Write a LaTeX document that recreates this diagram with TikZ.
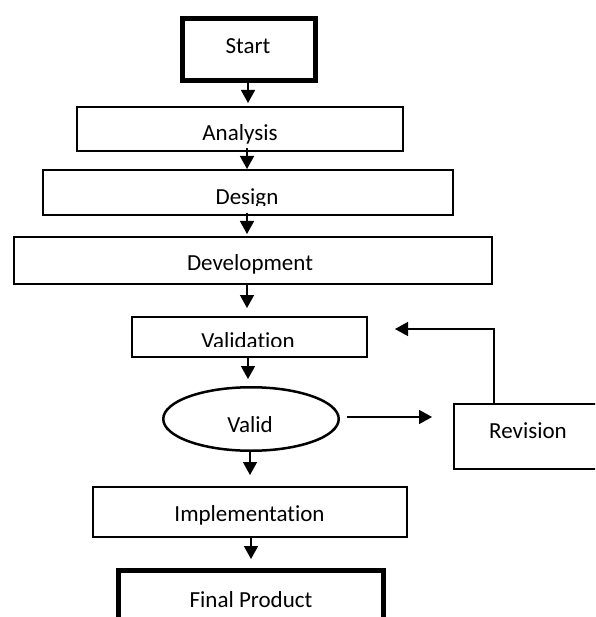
\documentclass[tikz,border=0pt]{standalone}
\usepackage{fontspec}
\setmainfont[Ligatures=NoCommon]{Carlito}
\usetikzlibrary{arrows.meta,shapes.geometric}
\begin{document}
\begin{tikzpicture}[x=1pt,y=-1pt,
  box/.style={draw=black, line width=2pt, rectangle, inner sep=0pt, fill=white},
  thickbox/.style={draw=black, line width=5pt, rectangle, inner sep=0pt, fill=white},
  lbl/.style={anchor=base, inner sep=0pt, font=\fontsize{23}{28}\selectfont},
  arr/.style={draw=black, line width=1.5pt, -{Triangle[width=14pt,length=13pt]}}]
\clip (0,0) rectangle (595,617);
\fill[white] (0,0) rectangle (595,617);
% boxes
\node[thickbox, minimum width=133pt, minimum height=62pt] (start) at (249,49.5) {};
\node[box, minimum width=326pt, minimum height=44pt] (analysis) at (240,129) {};
\node[box, minimum width=410pt, minimum height=45pt] (design) at (248,192.5) {};
\node[box, minimum width=478pt, minimum height=47pt] (dev) at (253,260.5) {};
\node[box, minimum width=235pt, minimum height=40pt] (val) at (249.5,337) {};
\node[draw=black, line width=2.5pt, ellipse, inner sep=0pt, minimum width=175.5pt, minimum height=63.5pt] (valid) at (251,419) {};
\node[box, minimum width=166pt, minimum height=65pt] (rev) at (537,436.5) {};
\node[box, minimum width=314pt, minimum height=50pt] (impl) at (250,512) {};
\node[thickbox, minimum width=265pt, minimum height=69.5pt] (final) at (251,605.25) {};
% labels
\node[lbl] (tstart) at (248,54) {Start};
\node[lbl] (tanalysis) at (240,141) {Analysis};
\begin{scope}
\clip (43,170) rectangle (453,205.5);
\node[lbl] (tdesign) at (247,205) {Design};
\end{scope}
\node[lbl] (tdev) at (250,270.5) {Development};
\begin{scope}
\clip (132,317) rectangle (367,346.5);
\node[lbl] (tval) at (248,348) {Validat\kern0pt ion};
\end{scope}
\node[lbl] (tvalid) at (250,432) {Valid};
\node[lbl] (trev) at (528,438) {Revision};
\node[lbl] (timpl) at (249.5,521) {Implementat\kern0pt ion};
\node[lbl] (tfinal) at (251,607) {Final Product};
% arrow columns
\coordinate (c1) at (248,0);
\coordinate (c2) at (247,0);
\coordinate (c3) at (248,0);
\coordinate (c4) at (250,0);
\coordinate (c5) at (251,0);
\draw[arr, shorten >=3pt] (start.south -| c1) -- (analysis.north -| c1);
\draw[arr, shorten <=-4pt] (analysis.south -| c2) -- (design.north -| c2);
\draw[arr, shorten <=-3pt, shorten >=2pt] (design.south -| c2) -- (dev.north -| c2);
\draw[arr, shorten >=8pt] (dev.south -| c2) -- (val.north -| c2);
\draw[arr, shorten >=7pt] (val.south -| c3) -- (valid.north -| c3);
\draw[arr, shorten >=11pt] (valid.south -| c4) -- (impl.north -| c4);
\draw[arr, shorten >=9pt] (impl.south -| c5) -- (final.north -| c5);
% side branch
\coordinate (ry) at (0,417);
\draw[arr, shorten <=7pt, shorten >=21pt] (valid.east |- ry) -- (rev.west |- ry);
\coordinate (fbx) at (494,329);
\coordinate (fbtip) at (395,329);
\draw[arr] (rev.north -| fbx) |- (fbtip);
\end{tikzpicture}
\end{document}
